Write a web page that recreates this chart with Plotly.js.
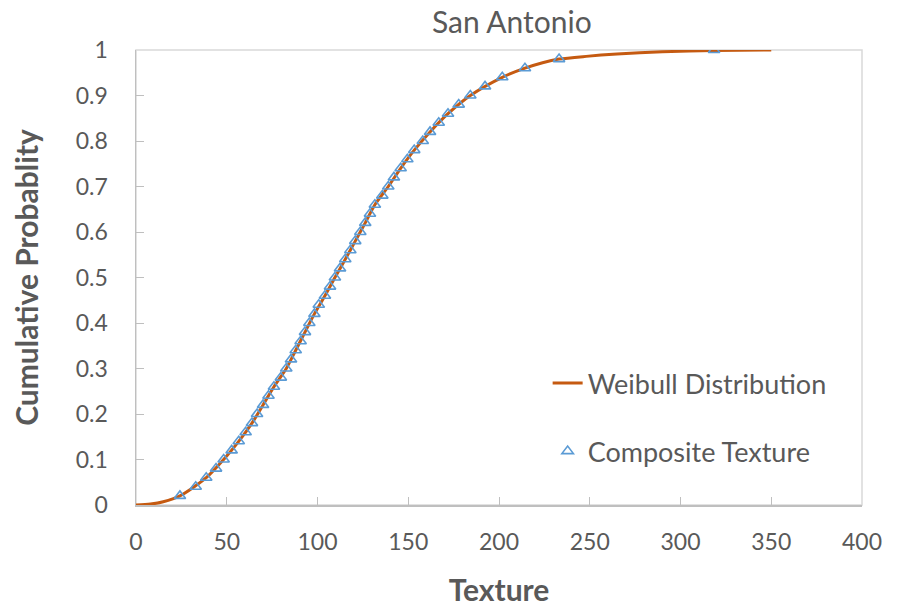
<!DOCTYPE html>
<html>
<head>
<meta charset="utf-8">
<script src="https://cdn.plot.ly/plotly-3.0.1.min.js"></script>
<style>html,body{margin:0;padding:0;background:#fff;}#chart{width:898px;height:609px;}</style>
</head>
<body>
<div id="chart"></div>
<script>
// Composite Texture observations (empirical cumulative probability)
var textureX = [24.2, 32.9, 38.7, 44.1, 48.3, 52.7, 56.6, 60.4, 63.9, 66.7,
                70.0, 73.0, 76.0, 79.8, 82.8, 85.4, 88.0, 90.7, 93.1, 95.5,
                98.3, 100.7, 104.1, 106.9, 109.6, 112.4, 115.3, 118.1, 120.8, 123.6,
                126.3, 128.9, 131.6, 135.7, 139.0, 142.1, 145.8, 149.5, 153.3, 158.0,
                162.0, 166.8, 171.9, 177.8, 184.2, 192.3, 201.8, 214.3, 233.1, 318.5];
var textureY = [0.02, 0.04, 0.06, 0.08, 0.10, 0.12, 0.14, 0.16, 0.18, 0.20,
                0.22, 0.24, 0.26, 0.28, 0.30, 0.32, 0.34, 0.36, 0.38, 0.40,
                0.42, 0.44, 0.46, 0.48, 0.50, 0.52, 0.54, 0.56, 0.58, 0.60,
                0.62, 0.64, 0.66, 0.68, 0.70, 0.72, 0.74, 0.76, 0.78, 0.80,
                0.82, 0.84, 0.86, 0.88, 0.90, 0.92, 0.94, 0.96, 0.98, 1.00];

// Weibull distribution curve
var weibullX = [0, 8, 15, 24.2, 38.7, 48.3, 56.6, 63.9, 70.0, 76.0, 82.8, 88.0, 93.1, 98.3,
                104.1, 109.6, 115.3, 120.8, 126.3, 131.6, 139.0, 145.8, 153.3, 162.0,
                171.9, 184.2, 201.8, 214.3, 224, 233.1, 248, 265, 290, 318.5, 350];
var weibullY = [0, 0.002, 0.007, 0.02, 0.06, 0.10, 0.14, 0.18, 0.22, 0.26, 0.30, 0.34, 0.38, 0.42,
                0.46, 0.50, 0.54, 0.58, 0.62, 0.66, 0.70, 0.74, 0.78, 0.82,
                0.86, 0.90, 0.94, 0.96, 0.972, 0.98, 0.986, 0.991, 0.996, 0.999, 1.0];

var xTicks = [0, 50, 100, 150, 200, 250, 300, 350, 400];
var yTicks = [0, 0.1, 0.2, 0.3, 0.4, 0.5, 0.6, 0.7, 0.8, 0.9, 1];
var yTickText = ['0', '0.1', '0.2', '0.3', '0.4', '0.5', '0.6', '0.7', '0.8', '0.9', '1'];

var FONT = 'Lato, "Noto Sans", sans-serif';
var GREY = '#595959';

var traces = [
  {
    x: weibullX, y: weibullY, type: 'scatter', mode: 'lines',
    name: 'Weibull Distribution', legendgroup: 'a',
    line: {color: '#C55A11', width: 3, shape: 'spline', smoothing: 0.8},
    hoverinfo: 'skip'
  },
  {
    x: textureX, y: textureY, type: 'scatter', mode: 'markers',
    name: 'Composite Texture', legendgroup: 'b',
    marker: {symbol: 'triangle-up-open', size: 10, color: '#5B9BD5', line: {width: 1.6, color: '#5B9BD5'}}
  }
];

var layout = {
  width: 898, height: 609,
  paper_bgcolor: '#ffffff', plot_bgcolor: '#ffffff',
  margin: {l: 136, r: 36, t: 50, b: 104},
  font: {family: FONT, color: GREY, size: 23},
  title: {text: 'San Antonio', font: {family: FONT, size: 30, color: GREY},
          xref: 'container', x: 0.570, xanchor: 'center', yref: 'container', y: 0.963, yanchor: 'middle'},
  xaxis: {
    range: [0, 400], tickvals: xTicks, ticktext: xTicks.map(String),
    showgrid: false, zeroline: false,
    showline: true, linecolor: '#BFBFBF', linewidth: 1.5,
    ticks: 'inside', ticklen: 8, tickcolor: '#BFBFBF', tickwidth: 1,
    tickfont: {family: FONT, size: 23, color: GREY},
    ticklabelstandoff: 16,
    title: {text: '<b>Texture</b>', font: {family: FONT, size: 30, color: GREY}, standoff: 26}
  },
  yaxis: {
    range: [0, 1], tickvals: yTicks, ticktext: yTickText,
    showgrid: false, zeroline: false,
    showline: true, linecolor: '#BFBFBF', linewidth: 1.5,
    ticks: 'inside', ticklen: 8, tickcolor: '#BFBFBF', tickwidth: 1,
    tickfont: {family: FONT, size: 23, color: GREY},
    ticklabelstandoff: 22,
    title: {text: '<b>Cumulative Probablity</b>', font: {family: FONT, size: 30, color: GREY}, standoff: 28}
  },
  shapes: [
    {type: 'rect', xref: 'paper', yref: 'paper', x0: 0, x1: 1, y0: 0, y1: 1,
     line: {color: '#D9D9D9', width: 1.5}, layer: 'below'}
  ],
  legend: {
    x: 0.567, y: 0.321, xanchor: 'left', yanchor: 'top',
    bgcolor: 'rgba(0,0,0,0)', borderwidth: 0,
    font: {family: FONT, size: 27, color: GREY},
    traceorder: 'grouped', tracegroupgap: 30, itemwidth: 30
  },
  showlegend: true
};

Plotly.newPlot('chart', traces, layout, {displayModeBar: false, staticPlot: true});
</script>
</body>
</html>
